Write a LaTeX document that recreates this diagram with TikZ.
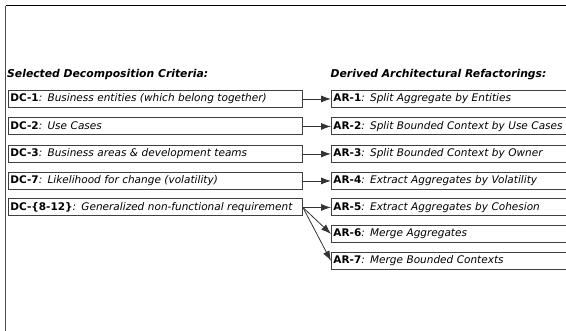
\documentclass[tikz,border=0pt]{standalone}
\usepackage{fontspec}
\setmainfont{DejaVu Sans}
\usetikzlibrary{arrows.meta}
\begin{document}
\begin{tikzpicture}[x=1pt,y=-1pt,
  every node/.style={font=\fontsize{10.5}{12}\selectfont},
  crit/.style={draw=black!75, line width=0.9pt, anchor=north west, minimum width=294pt, minimum height=17pt, inner xsep=2pt, inner ysep=0pt, text height=7.8pt, text depth=2.2pt, align=left, text width=290pt},
  refac/.style={draw=black!75, line width=0.9pt, anchor=north west, minimum width=260pt, minimum height=17pt, inner xsep=2pt, inner ysep=0pt, text height=7.8pt, text depth=2.2pt, align=left, text width=256pt},
  heading/.style={anchor=west, inner sep=0pt, font=\fontsize{10.8}{12}\selectfont\bfseries\itshape},
  conn/.style={draw=black!80, line width=0.8pt, -{Latex[length=10pt,width=7pt]}},
  frame/.style={line width=1pt}]
\clip (0,0) rectangle (566,331);
\useasboundingbox (0,0) rectangle (566,331);
\draw[frame, black] (5.5,6) -- (566,6);
\draw[frame, black!70] (5.5,6) -- (5.5,331);

\node[heading] (h1) at (7,74.5) {Selected Decomposition Criteria:};
\node[heading] (h2) at (330.5,74.5) {Derived Architectural Refactorings:};

\node[crit] (dc1) at (8,90) {\makebox[0pt][l]{\textbf{DC-1}\textit{: Business entities (which belong together)}}};
\node[crit] (dc2) at (8,117.5) {\makebox[0pt][l]{\textbf{DC-2}\textit{: Use Cases}}};
\node[crit] (dc3) at (8,145) {\makebox[0pt][l]{\textbf{DC-3}\textit{: Business areas \& development teams}}};
\node[crit] (dc7) at (8,172) {\makebox[0pt][l]{\textbf{DC-7}\textit{: Likelihood for change (volatility)}}};
\node[crit] (dc8) at (8,198.5) {\makebox[0pt][l]{\textbf{DC-\{8-12\}}\textit{: Generalized non-functional requirement}}};

\node[refac] (ar1) at (331,90) {\makebox[0pt][l]{\textbf{AR-1}\textit{: Split Aggregate by Entities}}};
\node[refac] (ar2) at (331,117.5) {\makebox[0pt][l]{\textbf{AR-2}\textit{: Split Bounded Context by Use Cases}}};
\node[refac] (ar3) at (331,145) {\makebox[0pt][l]{\textbf{AR-3}\textit{: Split Bounded Context by Owner}}};
\node[refac] (ar4) at (331,172) {\makebox[0pt][l]{\textbf{AR-4}\textit{: Extract Aggregates by Volatility}}};
\node[refac] (ar5) at (331,198.5) {\makebox[0pt][l]{\textbf{AR-5}\textit{: Extract Aggregates by Cohesion}}};
\node[refac] (ar6) at (331,225) {\makebox[0pt][l]{\textbf{AR-6}\textit{: Merge Aggregates}}};
\node[refac] (ar7) at (331,252) {\makebox[0pt][l]{\textbf{AR-7}\textit{: Merge Bounded Contexts}}};

\draw[conn] (dc1) -- (ar1);
\draw[conn] (dc2) -- (ar2);
\draw[conn] (dc3) -- (ar3);
\draw[conn] (dc7) -- (ar4);
\draw[conn] (dc8) -- (ar5);
\draw[conn] (dc8.east) -- (ar6.west);
\draw[conn] (dc8.east) -- (ar7.west);
\end{tikzpicture}
\end{document}
